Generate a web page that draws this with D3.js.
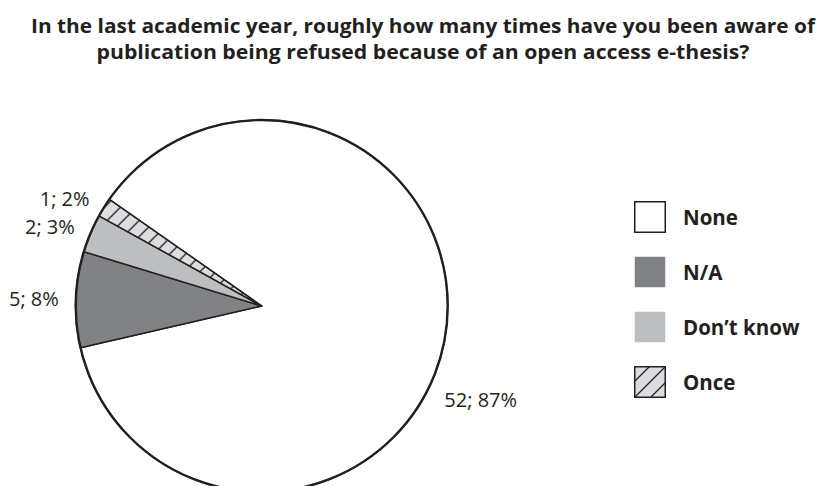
<!DOCTYPE html>
<html>
<head>
<meta charset="utf-8">
<script src="https://cdn.jsdelivr.net/npm/d3@7"></script>
<style>
  html, body { margin: 0; padding: 0; background: #ffffff; }
  svg { display: block; }
</style>
</head>
<body>
<svg id="chart" width="822" height="486"></svg>
<script>
// Survey answers and counts
const categories = ["None", "N/A", "Don\u2019t know", "Once"];
const counts = [52, 5, 2, 1];
const titleLines = [
  "In the last academic year, roughly how many times have you been aware of",
  "publication being refused because of an open access e-thesis?"
];

const ink = "#231f20";
const fills = ["#ffffff", "#808285", "#bcbec0", "url(#hatch)"];

const svg = d3.select("#chart");

// Diagonal hatch for the "Once" slice
const defs = svg.append("defs");
const hatch = defs.append("pattern")
  .attr("id", "hatch")
  .attr("patternUnits", "userSpaceOnUse")
  .attr("width", 16).attr("height", 16);
hatch.append("rect").attr("width", 16).attr("height", 16).attr("fill", "#dcdde0");
hatch.append("path")
  .attr("d", "M0,16 L16,0 M-4,4 L4,-4 M12,20 L20,12")
  .attr("stroke", ink).attr("stroke-width", 1.3);

// Title
const font = "'Open Sans', 'DejaVu Sans', sans-serif";
const titleSpecs = [
  { y: 33, width: 784 },
  { y: 59, width: 653 }
];
svg.append("g").selectAll("text")
  .data(titleLines)
  .join("text")
  .attr("x", 423)
  .attr("y", (d, i) => titleSpecs[i].y)
  .attr("text-anchor", "middle")
  .attr("textLength", (d, i) => titleSpecs[i].width)
  .attr("lengthAdjust", "spacingAndGlyphs")
  .attr("font-family", font)
  .attr("font-weight", 700)
  .attr("font-size", 20)
  .attr("fill", ink)
  .text(d => d);

// Pie
const cx = 261.7, cy = 306, r = 186;
const total = d3.sum(counts);
const start = -55 * Math.PI / 180;
const pie = d3.pie().sort(null).value(d => d)
  .startAngle(start).endAngle(start + 2 * Math.PI);
const arcs = pie(counts);
const arc = d3.arc().innerRadius(0).outerRadius(r);

const g = svg.append("g").attr("transform", `translate(${cx},${cy})`);
g.selectAll("path.slice")
  .data(arcs)
  .join("path")
  .attr("class", "slice")
  .attr("d", arc)
  .attr("fill", (d, i) => fills[i])
  .attr("stroke", ink)
  .attr("stroke-width", 1.5)
  .attr("stroke-linejoin", "round");

g.append("circle")
  .attr("r", r)
  .attr("fill", "none")
  .attr("stroke", ink)
  .attr("stroke-width", 2.4);

// Value labels "count; percent"
const fmtLabel = v => `${v}; ${Math.round(v / total * 100)}%`;
const labelR = 203;
const bigLabelAngle = 117 * Math.PI / 180; // large slice label sits lower right
g.selectAll("text.value")
  .data(arcs)
  .join("text")
  .attr("class", "value")
  .each(function (d, i) {
    const a = i === 0 ? bigLabelAngle : (d.startAngle + d.endAngle) / 2;
    const rr = i === 0 ? 205 : labelR;
    const x = rr * Math.sin(a), y = -rr * Math.cos(a);
    d3.select(this)
      .attr("x", x).attr("y", y)
      .attr("text-anchor", x < 0 ? "end" : "start");
  })
  .attr("dominant-baseline", "central")
  .attr("font-family", font)
  .attr("font-size", 20)
  .attr("fill", ink)
  .text(d => fmtLabel(d.data));

// Legend
const legend = svg.append("g").attr("transform", "translate(634,201)");
const rowStep = 55, box = 32;
const rows = legend.selectAll("g.row")
  .data(categories)
  .join("g")
  .attr("class", "row")
  .attr("transform", (d, i) => `translate(0,${i * rowStep})`);
rows.append("rect")
  .attr("x", 0.75).attr("y", 0.75)
  .attr("width", box - 1.5).attr("height", box - 1.5)
  .attr("fill", (d, i) => fills[i])
  .attr("stroke", (d, i) => (i === 0 || i === 3) ? ink : "none")
  .attr("stroke-width", 1.5);
rows.append("text")
  .attr("x", 49)
  .attr("y", box / 2)
  .attr("dominant-baseline", "central")
  .attr("font-family", font)
  .attr("font-weight", 700)
  .attr("font-size", 20.5)
  .attr("fill", ink)
  .text(d => d);
</script>
</body>
</html>
